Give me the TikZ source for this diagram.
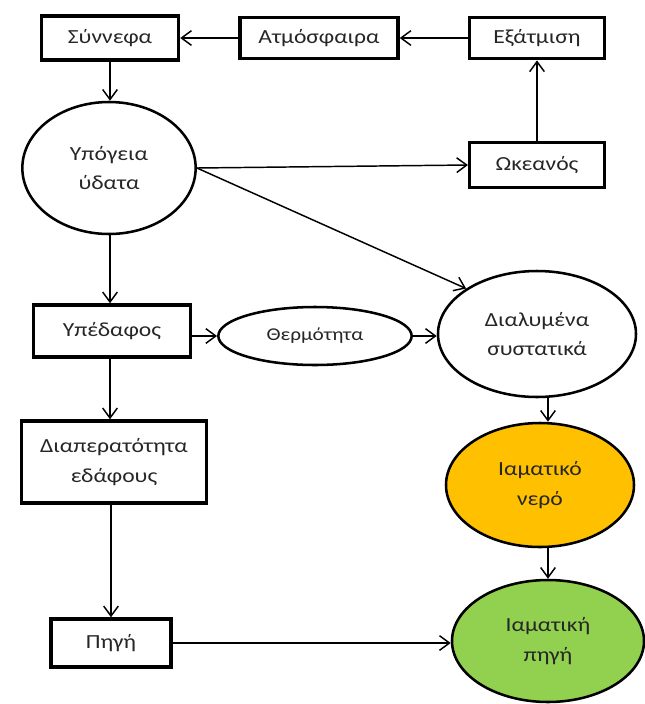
\documentclass[tikz,border=0pt]{standalone}
\usepackage{fontspec}
\setmainfont{Carlito}[FakeStretch=1.18]
\usetikzlibrary{shapes.geometric,arrows.meta}
\definecolor{txt}{HTML}{262626}
\definecolor{orangefill}{HTML}{FFC000}
\definecolor{greenfill}{HTML}{92D050}
\begin{document}
\begin{tikzpicture}[x=0.75pt,y=-0.75pt,
  box/.style={draw, line width=2.6pt, rectangle, inner sep=0pt, align=center,
    font=\fontsize{15}{22}\selectfont, text=txt},
  ell/.style={draw, line width=1.9pt, ellipse, inner sep=0pt, align=center,
    font=\fontsize{15}{22}\selectfont, text=txt},
  arr/.style={line width=1.1pt, -{Straight Barb[length=7.5pt,width=11pt]}}
]
\useasboundingbox (0,0) rectangle (645,704);

\node[box, minimum width=102.75pt, minimum height=33pt] (syn) at (110,38) {Σύννεφα};
\node[box, minimum width=118.5pt, minimum height=31pt] (atm) at (319,38) {Ατμόσφαιρα};
\node[box, minimum width=101pt, minimum height=31pt] (exa) at (537,38) {Εξάτμιση};
\node[box, minimum width=101pt, minimum height=34pt] (oke) at (537,165) {Ωκεανός};
\node[box, minimum width=118pt, minimum height=39pt] (yped) at (112,331) {Υπέδαφος};
\node[box, minimum width=139pt, minimum height=61.5pt] (diap) at (114,462) {Διαπερατότητα\\εδάφους};
\node[box, minimum width=90pt, minimum height=36pt] (pigi) at (111,643) {Πηγή};

\node[ell, minimum width=130pt, minimum height=99pt] (ypo) at (109,168) {Υπόγεια\\ύδατα};
\node[ell, minimum width=145pt, minimum height=43.5pt, font=\fontsize{13.5}{20}\selectfont] (therm) at (315,336) {Θερμότητα};
\node[ell, minimum width=148.5pt, minimum height=94.5pt] (dial) at (537,334) {Διαλυμένα\\συστατικά};
\node[ell, fill=orangefill, minimum width=141pt, minimum height=93pt] (iam) at (540,485) {Ιαματικό\\νερό};
\node[ell, fill=greenfill, minimum width=144pt, minimum height=91.5pt] (iamp) at (548,641) {Ιαματική\\πηγή};

\draw[arr] (exa.west) -- (atm.east);
\draw[arr] (atm.west) -- (syn.east);
\draw[arr] (syn.south) -- (ypo.north -| syn.south);
\draw[arr] (oke.north) -- (exa.south);
\draw[arr] (ypo.east) -- (oke.west);
\draw[arr] (ypo.east) -- (dial.north west);
\draw[arr] (ypo.south -| syn.south) -- (yped.north -| syn.south);
\draw[arr] (therm.west -| yped.east) -- (therm.west);
\draw[arr] (therm.east) -- (therm.east -| dial.west);
\draw[arr] (yped.south -| syn.south) -- (diap.north -| syn.south);
\draw[arr] (pigi.north |- diap.south) -- (pigi.north);
\draw[arr] (dial.south -| iamp.north) -- (iam.north -| iamp.north);
\draw[arr] (iam.south -| iamp.north) -- (iamp.north);
\draw[arr] (pigi.east) -- (pigi.east -| iamp.west);
\end{tikzpicture}
\end{document}
